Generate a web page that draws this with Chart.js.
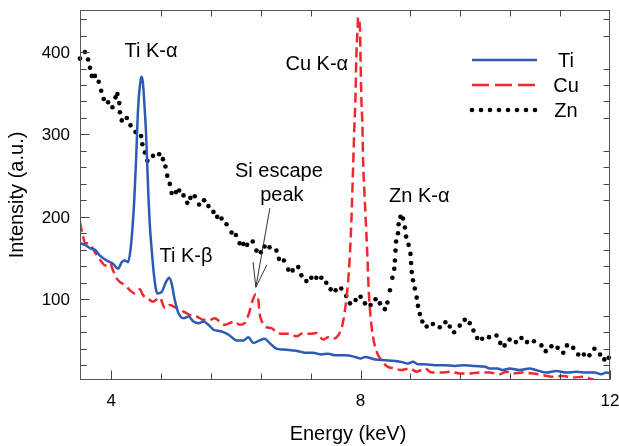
<!DOCTYPE html>
<html><head><meta charset="utf-8">
<script src="https://cdn.jsdelivr.net/npm/chart.js@4/dist/chart.umd.min.js"></script>
<style>html,body{margin:0;padding:0;background:#fff}</style>
</head><body>
<canvas id="c" width="619" height="446"></canvas>
<script>
const tiEnergy = [3.50,3.58,3.66,3.74,3.82,3.93,4.03,4.11,4.17,4.22,4.27,4.31,4.34,4.37,4.40,4.43,4.47,4.49,4.51,4.53,4.56,4.58,4.60,4.62,4.65,4.69,4.74,4.81,4.88,4.93,4.97,5.02,5.08,5.16,5.24,5.32,5.40,5.48,5.56,5.64,5.69,5.80,5.90,6.01,6.12,6.20,6.28,6.38,6.46,6.54,6.65,6.76,6.89,7.00,7.11,7.24,7.37,7.48,7.59,7.75,7.91,8.00,8.07,8.23,8.39,8.55,8.65,8.76,8.84,8.92,9.03,9.19,9.35,9.51,9.67,9.83,10.00,10.07,10.20,10.28,10.39,10.55,10.71,10.82,10.98,11.14,11.30,11.46,11.62,11.75,11.86,11.94,12.00];
const tiIntensity = [168,166,162,160,153,147,143,137,145,147,145,160,185,220,270,329,365,370,362,340,300,260,220,190,160,127,107,109,121,126,119,99,83,77,79,73,71,73,69,63,62,60,56,50,50,54,47,50,52,47,40,39,38,37,35,35,33,34,32,32,30,28,30,27,26,25,24,22,24,21,21,20,20,19,20,19,18,16,16,14,16,14,16,14,11,13,11,12,11,11,9,11,10];

const cuEnergy = [3.50,3.52,3.54,3.58,3.63,3.69,3.74,3.79,3.85,3.90,3.98,4.03,4.09,4.14,4.22,4.30,4.38,4.46,4.51,4.59,4.67,4.78,4.86,4.94,5.05,5.16,5.26,5.37,5.48,5.58,5.66,5.74,5.82,5.90,5.98,6.06,6.14,6.21,6.27,6.32,6.36,6.38,6.43,6.49,6.57,6.65,6.76,6.87,6.97,7.08,7.19,7.29,7.40,7.48,7.56,7.64,7.69,7.72,7.77,7.81,7.84,7.86,7.88,7.90,7.92,7.93,7.95,7.96,7.99,8.00,8.01,8.03,8.04,8.06,8.08,8.11,8.13,8.16,8.20,8.25,8.33,8.44,8.55,8.65,8.79,8.90,9.03,9.14,9.30,9.43,9.59,9.75,9.91,10.07,10.23,10.34,10.44,10.60,10.76,10.92,11.08,11.25,11.41,11.57,11.67,11.75];
const cuIntensity = [194,186,180,168,168,163,157,151,145,141,144,135,125,121,117,111,107,112,105,101,97,102,89,93,89,85,81,79,75,75,77,73,69,71,73,69,71,83,99,106,99,83,71,66,65,60,58,58,55,59,58,59,51,54,52,56,64,73,99,131,172,212,260,309,350,390,426,442,428,390,350,309,269,232,200,151,111,79,54,38,26,18,16,14,16,12,16,11,11,12,10,10,11,11,9,12,10,11,10,8,6,7,5,6,4,2];

const znEnergy = [3.50,3.58,3.63,3.66,3.69,3.74,3.80,3.84,3.88,3.95,4.02,4.07,4.10,4.13,4.14,4.17,4.25,4.31,4.39,4.48,4.50,4.54,4.58,4.67,4.77,4.83,4.87,4.90,4.94,4.97,5.04,5.09,5.16,5.22,5.27,5.34,5.41,5.49,5.56,5.64,5.70,5.77,5.85,5.93,6.00,6.06,6.12,6.18,6.27,6.33,6.40,6.46,6.54,6.65,6.69,6.77,6.84,6.91,7.00,7.05,7.13,7.21,7.29,7.37,7.45,7.52,7.60,7.69,7.77,7.83,7.92,8.00,8.07,8.16,8.24,8.31,8.39,8.43,8.47,8.51,8.54,8.55,8.56,8.57,8.60,8.61,8.64,8.68,8.71,8.73,8.77,8.80,8.81,8.82,8.84,8.87,8.90,8.92,8.95,8.99,9.06,9.16,9.27,9.36,9.43,9.50,9.59,9.67,9.75,9.81,9.87,9.95,10.06,10.18,10.24,10.31,10.39,10.49,10.58,10.67,10.78,10.90,10.97,11.06,11.16,11.25,11.31,11.41,11.49,11.58,11.67,11.75,11.84,11.91,11.98];
const znIntensity = [392,400,391,381,371,371,364,353,343,339,333,345,349,338,327,317,320,311,303,298,288,278,268,274,276,270,261,250,240,229,230,232,226,217,223,225,215,220,213,206,200,198,191,181,178,168,167,166,170,159,157,164,163,159,149,147,136,135,139,129,122,126,126,126,120,112,111,113,104,95,99,103,95,93,100,95,88,96,111,126,137,147,159,170,180,191,200,198,187,176,166,155,144,133,123,113,102,92,82,73,67,70,66,72,67,60,68,75,71,62,53,52,54,56,47,44,51,48,53,48,49,44,37,43,41,35,44,41,33,33,32,40,33,27,29];

const seriesNames = ['Ti','Cu','Zn'];
const xMajorTicks = [4, 8, 12];
const xMinorTicks = [4.8, 5.6, 6.4, 7.2, 8.8, 9.6, 10.4, 11.2];
const yMajorTicks = [100, 200, 300, 400];
const yMinorTicks = [20,40,60,80,120,140,160,180,220,240,260,280,320,340,360,380,420,440];
const annotations = [
  {text:'Ti K-\u03b1', x:4.638, y:393.6},
  {text:'Cu K-\u03b1', x:7.298, y:377.9},
  {text:'Si escape', x:6.689, y:248},
  {text:'peak', x:6.737, y:219},
  {text:'Zn K-\u03b1', x:8.941, y:217.7},
  {text:'Ti K-\u03b2', x:5.199, y:145}
];
const arrow = {from:[6.545, 210.5], to:[6.32, 114.6]};

const BLUE = '#2c5bb5', RED = '#f0282f', BLACK = '#000000';
const FONT = '"Liberation Sans", Arial, sans-serif';
const pts = (xs, ys) => xs.map((v, i) => ({x: v, y: ys[i]}));

const decor = {
  id: 'decor',
  afterDraw(chart) {
    const {ctx, chartArea: a, scales: {x, y}} = chart;
    ctx.save();
    ctx.strokeStyle = '#444'; ctx.lineWidth = 1; ctx.setLineDash([]);
    ctx.beginPath();
    const mn = 6, mj = 9;
    const L = Math.round(a.left) + 0.5, R = Math.round(a.right) - 0.5, T = Math.round(a.top) + 0.5, B = Math.round(a.bottom) - 0.5;
    xMinorTicks.forEach(v => { const p = Math.round(x.getPixelForValue(v)) + 0.5;
      ctx.moveTo(p, B); ctx.lineTo(p, B - mn); ctx.moveTo(p, T); ctx.lineTo(p, T + mn); });
    xMajorTicks.forEach(v => { const p = Math.round(x.getPixelForValue(v)) + 0.5;
      ctx.moveTo(p, B); ctx.lineTo(p, B - mj); });
    yMinorTicks.forEach(v => { const p = Math.round(y.getPixelForValue(v)) + 0.5;
      ctx.moveTo(L, p); ctx.lineTo(L + mn, p); ctx.moveTo(R, p); ctx.lineTo(R - mn, p); });
    yMajorTicks.forEach(v => { const p = Math.round(y.getPixelForValue(v)) + 0.5;
      ctx.moveTo(L, p); ctx.lineTo(L + mj, p); });
    ctx.stroke();
    ctx.strokeStyle = '#555';
    ctx.strokeRect(L, T, R - L, B - T);

    // tick labels
    ctx.fillStyle = '#000';
    ctx.font = '17px ' + FONT;
    ctx.textBaseline = 'alphabetic';
    ctx.textAlign = 'center';
    xMajorTicks.forEach(v => ctx.fillText(String(v), x.getPixelForValue(v), a.bottom + 26));
    ctx.textAlign = 'right';
    yMajorTicks.forEach(v => ctx.fillText(String(v), a.left - 10, y.getPixelForValue(v) + 6));

    // annotations
    ctx.font = '20px ' + FONT;
    ctx.textAlign = 'center'; ctx.textBaseline = 'alphabetic';
    annotations.forEach(t => ctx.fillText(t.text, x.getPixelForValue(t.x), y.getPixelForValue(t.y)));

    // arrow
    const x0 = x.getPixelForValue(arrow.from[0]), y0 = y.getPixelForValue(arrow.from[1]);
    const x1 = x.getPixelForValue(arrow.to[0]), y1 = y.getPixelForValue(arrow.to[1]);
    const dx = x0 - x1, dy = y0 - y1, len = Math.hypot(dx, dy), ux = dx / len, uy = dy / len;
    const hl = 24, hw = 7;
    const bx = x1 + ux * hl, by = y1 + uy * hl;
    ctx.strokeStyle = '#333'; ctx.lineWidth = 1;
    ctx.beginPath();
    ctx.moveTo(x0, y0); ctx.lineTo(x1, y1);
    ctx.moveTo(bx - uy * hw, by + ux * hw); ctx.lineTo(x1, y1); ctx.lineTo(bx + uy * hw, by - ux * hw);
    ctx.stroke();

    // legend
    const ds = chart.data.datasets;
    const lx0 = a.right - 138, lx1 = a.right - 73, tx = a.right - 44;
    const rows = [a.top + 50, a.top + 75, a.top + 100];
    ctx.textAlign = 'center'; ctx.textBaseline = 'middle';
    ds.forEach((d, i) => {
      const ry = rows[i];
      if (i < 2) {
        ctx.strokeStyle = d.borderColor; ctx.lineWidth = d.borderWidth;
        ctx.setLineDash(i === 1 ? [17, 6] : []);
        ctx.beginPath(); ctx.moveTo(lx0, ry); ctx.lineTo(lx1, ry); ctx.stroke();
        ctx.setLineDash([]);
      } else {
        ctx.fillStyle = d.pointBackgroundColor;
        for (let k = 0; k < 8; k++) { ctx.beginPath(); ctx.arc(lx0 + k * 9, ry, d.pointRadius, 0, Math.PI * 2); ctx.fill(); }
      }
      ctx.fillStyle = '#000';
      ctx.fillText(d.label, tx, ry + 1);
    });

    // axis titles
    ctx.font = '20px ' + FONT;
    ctx.textAlign = 'center'; ctx.textBaseline = 'middle';
    ctx.fillText('Energy (keV)', 348, 434);
    ctx.translate(17, 195); ctx.rotate(-Math.PI / 2);
    ctx.fillText('Intensity (a.u.)', 0, 0);
    ctx.restore();
  }
};

new Chart(document.getElementById('c'), {
  type: 'scatter',
  data: {
    datasets: [
      {label: seriesNames[0], data: pts(tiEnergy, tiIntensity), showLine: true, borderColor: BLUE, backgroundColor: BLUE, borderWidth: 2.5, pointRadius: 0, cubicInterpolationMode: 'monotone'},
      {label: seriesNames[1], data: pts(cuEnergy, cuIntensity), showLine: true, borderColor: RED, backgroundColor: RED, borderWidth: 2.5, borderDash: [10, 5], pointRadius: 0, cubicInterpolationMode: 'monotone'},
      {label: seriesNames[2], data: pts(znEnergy, znIntensity), showLine: false, pointRadius: 2.3, pointBackgroundColor: BLACK, pointBorderWidth: 0, borderColor: BLACK, clip: 5}
    ]
  },
  options: {
    responsive: false, animation: false, devicePixelRatio: 1,
    layout: {padding: {left: 0, right: 9, top: 10, bottom: 0}},
    plugins: {legend: {display: false}, tooltip: {enabled: false}},
    scales: {
      x: {type: 'linear', min: 3.5, max: 12,
        afterFit: s => { s.height = 66; },
        grid: {display: false, drawTicks: false}, border: {display: false},
        ticks: {display: false}},
      y: {type: 'linear', min: 2, max: 451,
        afterFit: s => { s.width = 80; },
        grid: {display: false, drawTicks: false}, border: {display: false},
        ticks: {display: false}}
    }
  },
  plugins: [decor]
});
</script>
</body></html>
